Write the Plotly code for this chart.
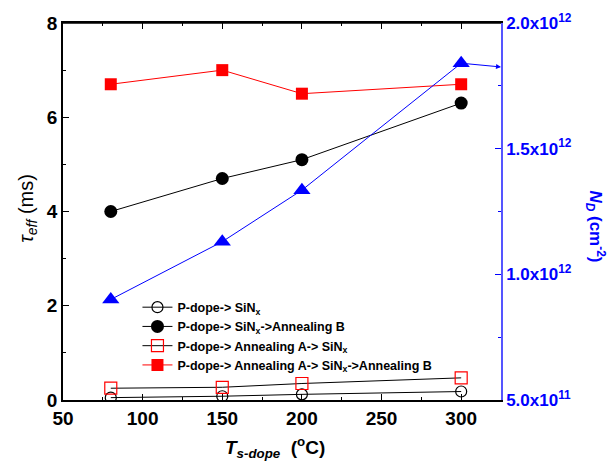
import plotly.graph_objects as go

temps = [80, 150, 200, 300]
tau_pdope_sinx = [0.05, 0.08, 0.12, 0.18]
tau_pdope_sinx_annB = [4.0, 4.7, 5.1, 6.3]
tau_pdope_annA_sinx = [0.25, 0.27, 0.35, 0.47]
tau_pdope_annA_sinx_annB = [6.7, 7.0, 6.5, 6.7]
nd_values = [0.90e12, 1.13e12, 1.335e12, 1.84e12]

names = [
    "P-dope-> SiN<sub>x</sub>",
    "P-dope-> SiN<sub>x</sub>->Annealing B",
    "P-dope-> Annealing A-> SiN<sub>x</sub>",
    "P-dope-> Annealing A-> SiN<sub>x</sub>->Annealing B",
]
y2_ticks = [5e11, 1.0e12, 1.5e12, 2.0e12]
y2_ticktext = ["5.0x10<sup>11</sup>", "1.0x10<sup>12</sup>", "1.5x10<sup>12</sup>", "2.0x10<sup>12</sup>"]

FONT = "Liberation Sans"
fig = go.Figure()

fig.add_trace(go.Scatter(x=temps, y=tau_pdope_sinx, name=names[0], mode="lines+markers",
                         line=dict(color="black", width=1),
                         marker=dict(symbol="circle-open", size=11, color="black", line=dict(width=1.2))))
fig.add_trace(go.Scatter(x=temps, y=tau_pdope_sinx_annB, name=names[1], mode="lines+markers",
                         line=dict(color="black", width=1),
                         marker=dict(symbol="circle", size=13, color="black")))
fig.add_trace(go.Scatter(x=temps, y=tau_pdope_annA_sinx, name=names[2], mode="lines+markers",
                         line=dict(color="black", width=1),
                         marker=dict(symbol="square-open", size=12, color="red", line=dict(width=1.2))))
fig.add_trace(go.Scatter(x=temps, y=tau_pdope_annA_sinx_annB, name=names[3], mode="lines+markers",
                         line=dict(color="red", width=1),
                         marker=dict(symbol="square", size=12, color="red")))
fig.add_trace(go.Scatter(x=temps, y=nd_values, name="N_D", mode="lines+markers", yaxis="y2",
                         showlegend=False,
                         line=dict(color="blue", width=1),
                         marker=dict(symbol="triangle-up", size=15, color="blue")))

fig.update_layout(
    width=614, height=461,
    margin=dict(l=63, r=113, t=23, b=61),
    plot_bgcolor="white", paper_bgcolor="white",
    font=dict(family=FONT, color="black"),
    showlegend=True,
    legend=dict(x=0.17, y=0.285, xanchor="left", yanchor="top", bgcolor="rgba(0,0,0,0)",
                font=dict(family=FONT, size=12.5, color="black", weight="bold"),
                tracegroupgap=0, itemwidth=30),
    xaxis=dict(range=[50, 325], tickvals=[50, 100, 150, 200, 250, 300], showgrid=False, zeroline=False,
               showline=True, linecolor="black", linewidth=1.5, mirror="ticks",
               ticks="inside", ticklen=6, tickcolor="black",
               minor=dict(dtick=25, tick0=50, ticks="inside", ticklen=3, tickcolor="black"),
               tickfont=dict(family=FONT, size=19, color="black", weight="bold")),
    yaxis=dict(range=[0, 8], tickvals=[0, 2, 4, 6, 8], showgrid=False, zeroline=False,
               showline=True, linecolor="black", linewidth=1.5,
               ticks="inside", ticklen=6, tickcolor="black",
               minor=dict(dtick=1, tick0=0, ticks="inside", ticklen=3, tickcolor="black"),
               tickfont=dict(family=FONT, size=19, color="black", weight="bold")),
    yaxis2=dict(range=[5e11, 2e12], overlaying="y", side="right", showgrid=False, zeroline=False,
                tickvals=y2_ticks, ticktext=y2_ticktext,
                showline=True, linecolor="#5555ff", linewidth=1.5,
                ticks="inside", ticklen=6, tickcolor="blue",
                minor=dict(dtick=2.5e11, tick0=5e11, ticks="inside", ticklen=3, tickcolor="blue"),
                tickfont=dict(family=FONT, size=17, color="blue", weight="bold")),
)

fig.add_shape(type="line", xref="paper", yref="paper", x0=0, x1=1, y0=1, y1=1,
              line=dict(color="black", width=1.5))

fig.add_annotation(x=325, y=1.825e12, xref="x", yref="y2", ax=300, ay=1.84e12,
                   axref="x", ayref="y2", showarrow=True, arrowhead=2, arrowsize=1,
                   arrowwidth=1, arrowcolor="blue", text="")

fig.add_annotation(text="<i>τ<sub>eff</sub></i> (ms)", xref="paper", yref="paper",
                   x=-0.08, y=0.51, xanchor="center", yanchor="middle", showarrow=False,
                   textangle=-90, font=dict(family=FONT, size=20, color="black"))
fig.add_annotation(text="<b><i>T</i><sub><i>s-dope</i></sub>  (<sup>o</sup>C)</b>", xref="paper", yref="paper",
                   x=0.485, y=-0.125, xanchor="center", yanchor="middle", showarrow=False,
                   font=dict(family=FONT, size=19, color="black"))
fig.add_annotation(text="<b><i>N<sub>D</sub></i> (cm<sup>-2</sup>)</b>", xref="paper", yref="paper",
                   x=1.215, y=0.46, xanchor="center", yanchor="middle", showarrow=False,
                   textangle=90, font=dict(family=FONT, size=17, color="blue"))

fig.write_html("out.html")
